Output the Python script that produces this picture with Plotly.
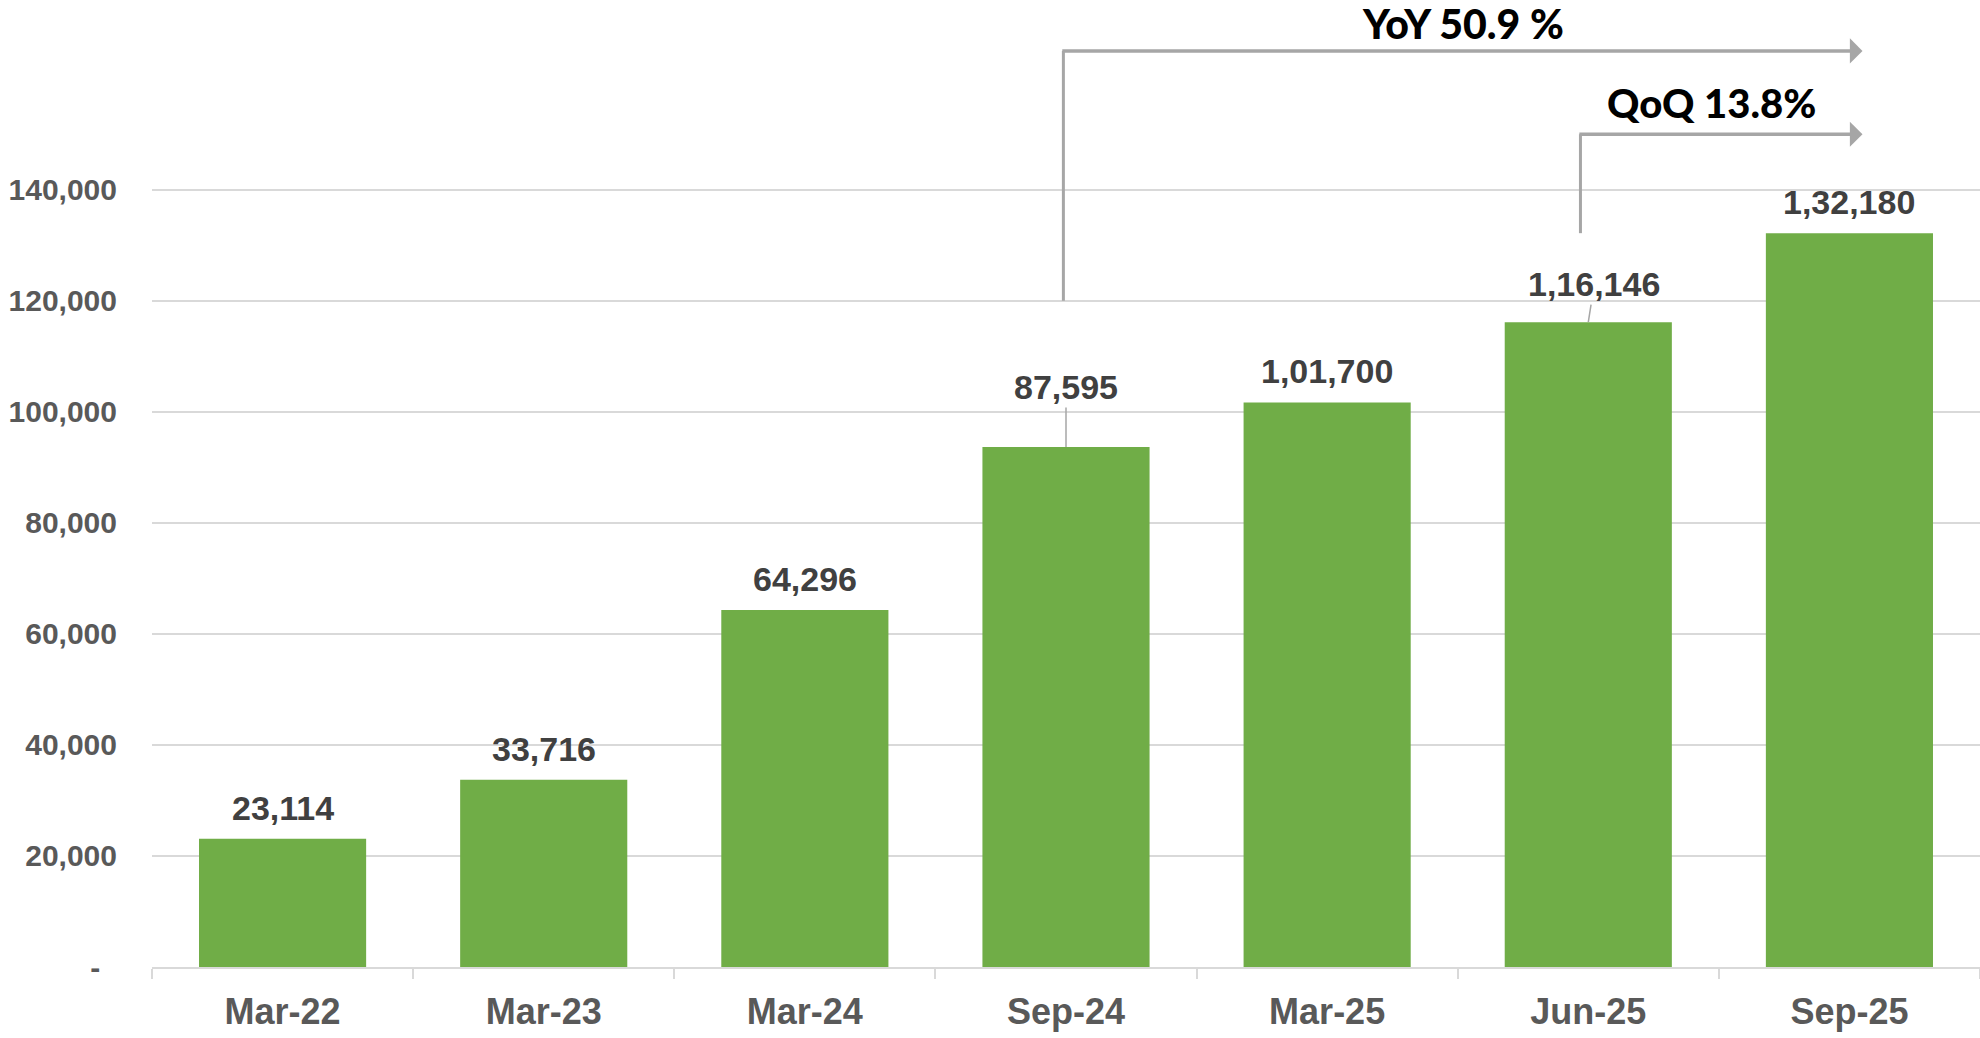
import plotly.graph_objects as go

# data
periods = ["Mar-22", "Mar-23", "Mar-24", "Sep-24", "Mar-25", "Jun-25", "Sep-25"]
bar_values = [23114, 33716, 64296, 93650, 101700, 116146, 132180]
bar_labels = ["23,114", "33,716", "64,296", "87,595", "1,01,700", "1,16,146", "1,32,180"]
y_ticks = [0, 20000, 40000, 60000, 80000, 100000, 120000, 140000]
y_tick_text = ["-\u00a0\u00a0", "20,000", "40,000", "60,000", "80,000", "100,000", "120,000", "140,000"]

GREEN = "#70AD47"
GRID = "#D9D9D9"
ARROW = "#A6A6A6"
Y_MAX = 174180

fig = go.Figure()
fig.add_trace(go.Bar(x=periods, y=bar_values, width=0.64,
                     marker=dict(color=GREEN, line=dict(width=0)),
                     hoverinfo="skip"))

# value labels
label_font = dict(family="Liberation Sans, Arial, sans-serif", size=34, color="#404040", weight="bold")
for i, (p, v, t) in enumerate(zip(periods, bar_values, bar_labels)):
    if p == "Sep-24":
        fig.add_annotation(x=p, y=v, text=t, showarrow=True, arrowhead=0, arrowwidth=1.5,
                           arrowcolor=ARROW, ax=0, ay=-60, standoff=0, font=label_font)
    elif p == "Jun-25":
        fig.add_annotation(x=p, y=v, text=t, showarrow=True, arrowhead=0, arrowwidth=1.5,
                           arrowcolor=ARROW, ax=6, ay=-38, standoff=0, font=label_font)
    else:
        fig.add_annotation(x=p, y=v, text=t, showarrow=False, yshift=31, font=label_font)

# growth arrows
big_font = dict(family="Lato, sans-serif", size=41, color="#000000", weight=900)
yoy_level, qoq_level = 165000, 150000
fig.add_shape(type="line", xref="x", yref="y", x0=2.99, x1=2.99, y0=120000, y1=yoy_level,
              line=dict(color=ARROW, width=3))
fig.add_annotation(xref="x", yref="y", x=6.05, y=yoy_level, ax=2.98, ay=yoy_level,
                   axref="x", ayref="y", text="", showarrow=True, arrowhead=1,
                   arrowsize=1.2, arrowwidth=3.5, arrowcolor=ARROW, standoff=0)
fig.add_annotation(xref="x", yref="y", x=4.52, y=169900, text="YoY 50.9 %",
                   showarrow=False, font=big_font)

fig.add_shape(type="line", xref="x", yref="y", x0=4.97, x1=4.97, y0=bar_values[-1], y1=qoq_level,
              line=dict(color=ARROW, width=3))
fig.add_annotation(xref="x", yref="y", x=6.05, y=qoq_level, ax=4.96, ay=qoq_level,
                   axref="x", ayref="y", text="", showarrow=True, arrowhead=1,
                   arrowsize=1.2, arrowwidth=3.5, arrowcolor=ARROW, standoff=0)
fig.add_annotation(xref="x", yref="y", x=5.47, y=155600, text="QoQ 13.8%",
                   showarrow=False, font=dict(big_font, size=40))

fig.update_layout(
    width=1980, height=1038,
    margin=dict(l=152, r=0, t=0, b=71),
    paper_bgcolor="white", plot_bgcolor="white",
    showlegend=False, bargap=0.36,
)
fig.update_xaxes(
    automargin=False,
    showline=True, linecolor=GRID, linewidth=2,
    ticks="outside", tickson="boundaries", ticklen=10, tickcolor=GRID, tickwidth=2,
    ticklabelstandoff=12,
    tickfont=dict(family="Liberation Sans, Arial, sans-serif", size=36, color="#595959", weight="bold"),
    showgrid=False,
)
fig.update_yaxes(
    automargin=False,
    range=[0, Y_MAX], tickvals=y_ticks, ticktext=y_tick_text,
    showgrid=True, gridcolor=GRID, gridwidth=2, zeroline=False,
    ticks="", ticklabelstandoff=34,
    tickfont=dict(family="Liberation Sans, Arial, sans-serif", size=30, color="#595959", weight="bold"),
)

fig.write_html("out.html", config={"displayModeBar": False},
               post_script="document.body.style.margin='0';document.body.style.overflow='hidden';")
